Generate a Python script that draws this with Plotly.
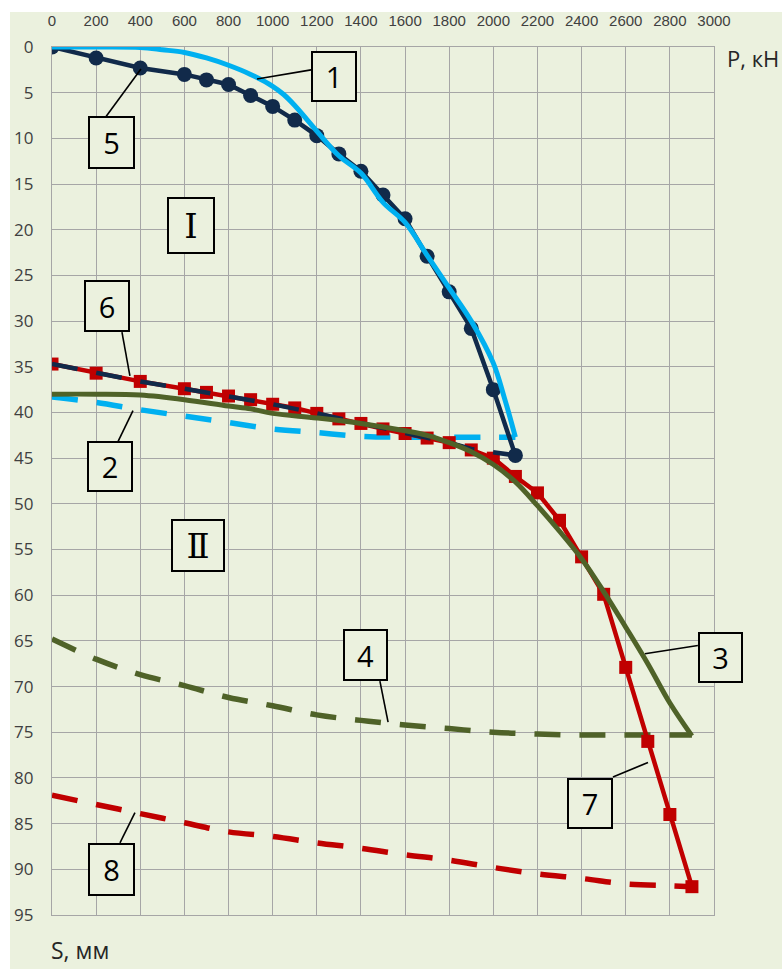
import plotly.graph_objects as go

# ---------------- data (P, kN ; S, mm) ----------------
p1 = [0, 200, 400, 500, 600, 700, 800, 900, 1000, 1050, 1100, 1200, 1300, 1400, 1500, 1600,
      1700, 1800, 1900, 2000, 2050, 2100]
s1 = [0, 0, 0.05, 0.3, 0.6, 1.2, 2.0, 3.0, 4.3, 5.2, 6.4, 9.2, 11.9, 13.8, 17.0, 19.2,
      22.8, 26.4, 30.0, 34.6, 38.4, 42.7]

p2 = [0, 200, 400, 600, 800, 1000, 1200, 1400, 1600, 1800, 2000, 2100]
s2 = [38.3, 38.9, 39.7, 40.4, 41.1, 41.8, 42.2, 42.6, 42.7, 42.7, 42.7, 42.7]

p3 = [0, 200, 400, 600, 800, 900, 1000, 1200, 1400, 1600, 1700, 1800, 1900, 2000, 2100,
      2200, 2300, 2400, 2500, 2600, 2700, 2800, 2900]
s3 = [38.0, 38.0, 38.1, 38.6, 39.3, 39.6, 40.1, 40.6, 41.2, 42.0, 42.5, 43.3, 44.3, 45.7,
      47.6, 50.2, 53.0, 56.0, 59.6, 63.5, 67.5, 71.8, 75.4]

p4 = [0, 200, 400, 600, 800, 1000, 1200, 1400, 1600, 1800, 2000, 2200, 2400, 2600, 2800, 2900]
s4 = [64.8, 67.0, 68.7, 69.9, 71.2, 72.1, 73.1, 73.7, 74.2, 74.6, 75.0, 75.2, 75.3, 75.3,
      75.3, 75.3]

p5 = [0, 200, 400, 600, 700, 800, 900, 1000, 1100, 1200, 1300, 1400, 1500, 1600, 1700,
      1800, 1900, 2000, 2100]
s5 = [0, 1.2, 2.3, 3.0, 3.6, 4.1, 5.3, 6.5, 8.0, 9.7, 11.7, 13.6, 16.2, 18.8, 22.9,
      26.8, 30.8, 37.5, 44.7]

p6 = [0, 200, 400, 600, 800, 1000, 1200, 1400, 1600, 1800, 1900, 2000, 2100]
s6 = [34.7, 35.7, 36.6, 37.4, 38.2, 39.1, 40.1, 41.2, 42.3, 43.3, 44.0, 44.4, 44.7]

p7 = [0, 200, 400, 600, 700, 800, 900, 1000, 1100, 1200, 1300, 1400, 1500, 1600, 1700,
      1800, 1900, 2000, 2100, 2200, 2300, 2400, 2500, 2600, 2700, 2800, 2900]
s7 = [34.7, 35.7, 36.6, 37.4, 37.8, 38.2, 38.6, 39.1, 39.5, 40.1, 40.7, 41.2, 41.8, 42.3,
      42.8, 43.3, 44.1, 45.0, 47.0, 48.8, 51.8, 55.8, 59.9, 67.9, 76.0, 84.0, 91.9]

p8 = [0, 200, 400, 600, 800, 1000, 1200, 1400, 1600, 1800, 2000, 2200, 2400, 2600, 2800, 2900]
s8 = [81.9, 82.9, 83.9, 84.9, 85.9, 86.4, 87.1, 87.7, 88.4, 89.0, 89.8, 90.5, 91.0, 91.6,
      91.8, 91.9]

x_ticks = list(range(0, 3001, 200))
y_ticks = list(range(0, 96, 5))

# label boxes: text, centre (P, S), outer size px
box_labels = ["1", "5", "6", "2", "Ⅰ", "Ⅱ", "4", "3", "7", "8"]
box_pos = [(1276, 3.2), (270, 10.5), (249, 28.3), (263, 45.9), (630, 19.5), (662, 54.6),
           (1421, 66.5), (3029, 66.8), (2438, 82.8), (270, 90.0)]
box_size = [(46, 51), (47, 53), (46, 52), (46, 51), (48, 57), (54, 53), (45, 52), (45, 51),
            (46, 51), (47, 53)]
leaders = [((1174, 2.5), (929, 3.5)), ((245, 7.6), (403, 2.4)), ((317, 31.2), (353, 36.0)),
           ((299, 43.2), (367, 39.8)), ((1486, 69.4), (1523, 73.9)),
           ((2927, 65.5), (2687, 66.4)), ((2542, 79.9), (2701, 78.3)),
           ((308, 87.1), (376, 83.8))]

XMAX, YMAX = 3000, 95
BG = "#EBF1DE"
BLUE, NAVY, RED, GREEN = "#00B0F0", "#112A4A", "#C00000", "#4F6228"
DASH = "26px,19px"


def px(x):
    return x / XMAX


def py(y):
    return 1 - y / YMAX


fig = go.Figure()
fig.add_trace(go.Scatter(x=p4, y=s4, mode="lines", line=dict(color=GREEN, width=5.5, dash=DASH, shape="spline")))
fig.add_trace(go.Scatter(x=p8, y=s8, mode="lines", line=dict(color=RED, width=5.5, dash=DASH, shape="spline")))
fig.add_trace(go.Scatter(x=p2, y=s2, mode="lines", line=dict(color=BLUE, width=5.5, dash=DASH, shape="spline")))
fig.add_trace(go.Scatter(x=p7, y=s7, mode="lines+markers", line=dict(color=RED, width=4.5),
                         marker=dict(symbol="square", size=13, color=RED)))
fig.add_trace(go.Scatter(x=p6, y=s6, mode="lines", line=dict(color=NAVY, width=4.5, dash=DASH)))
fig.add_trace(go.Scatter(x=p3, y=s3, mode="lines", line=dict(color=GREEN, width=5, shape="spline")))
fig.add_trace(go.Scatter(x=p5, y=s5, mode="lines+markers", line=dict(color=NAVY, width=4.5),
                         marker=dict(symbol="circle", size=15, color=NAVY)))
fig.add_trace(go.Scatter(x=p1, y=s1, mode="lines", line=dict(color=BLUE, width=5, shape="spline")))

annotations = []
for t, (bx, by), (w, h) in zip(box_labels, box_pos, box_size):
    roman = t in ("Ⅰ", "Ⅱ")
    annotations.append(dict(
        x=px(bx), y=py(by), xref="paper", yref="paper", text=t, showarrow=False,
        xanchor="center", yanchor="middle", width=w - 4, height=h - 4,
        bordercolor="black", borderwidth=2, borderpad=0, bgcolor=BG,
        font=dict(family="DejaVu Serif, Liberation Serif, serif" if roman else "Open Sans, sans-serif",
                  size=34 if roman else 29, color="black")))
# axis names (page pixels -> paper units: plot area 662 x 868 px starting at 52, 47)
annotations.append(dict(x=(781 - 52) / 662, y=(915 - 58) / 868, xref="paper", yref="paper",
                        text="P, кН", showarrow=False, xanchor="right", yanchor="middle",
                        font=dict(family="Open Sans, sans-serif", size=22, color="#262626")))
annotations.append(dict(x=(49 - 52) / 662, y=(915 - 968) / 868, xref="paper", yref="paper",
                        text="S, мм", showarrow=False, xanchor="left", yanchor="bottom",
                        font=dict(family="Open Sans, sans-serif", size=23, color="#262626")))

shapes = []
for (a, b) in leaders:
    shapes.append(dict(type="line", xref="paper", yref="paper", x0=px(a[0]), y0=py(a[1]),
                       x1=px(b[0]), y1=py(b[1]), line=dict(color="black", width=1.6)))
# white strips along the top and left edge of the picture
shapes.append(dict(type="rect", xref="paper", yref="paper", x0=-1, x1=2,
                   y0=(915 - 12) / 868, y1=2, fillcolor="white", line=dict(width=0), layer="below"))
shapes.append(dict(type="rect", xref="paper", yref="paper", x0=-1, x1=(10 - 52) / 662,
                   y0=-1, y1=2, fillcolor="white", line=dict(width=0), layer="below"))

fig.update_layout(
    width=782, height=969,
    margin=dict(l=52, r=68, t=47, b=54),
    paper_bgcolor=BG, plot_bgcolor=BG,
    showlegend=False, hovermode=False,
    annotations=annotations, shapes=shapes,
    xaxis=dict(side="top", range=[0, XMAX], tickvals=x_ticks, ticktext=[str(v) for v in x_ticks],
               showgrid=True, gridcolor="#A6A6A6", gridwidth=1.3, zeroline=False,
               showline=True, linecolor="#A6A6A6", linewidth=1.3, mirror=True,
               ticks="", ticklabelstandoff=14,
               tickfont=dict(family="Liberation Sans Narrow, Arial Narrow, Liberation Sans, sans-serif",
                             size=15, color="#404040")),
    yaxis=dict(range=[YMAX, 0], tickvals=y_ticks, ticktext=[str(v) for v in y_ticks],
               showgrid=True, gridcolor="#A6A6A6", gridwidth=1.3, zeroline=False,
               showline=True, linecolor="#A6A6A6", linewidth=1.3, mirror=True,
               ticks="", ticklabelstandoff=14,
               tickfont=dict(family="Open Sans, sans-serif", size=17, color="#404040")),
)

# remove the default page margin so the figure starts at the window's top-left corner
fig.write_html("out.html", config={"displayModeBar": False},
               post_script="document.body.style.margin='0';document.body.style.overflow='hidden';")
